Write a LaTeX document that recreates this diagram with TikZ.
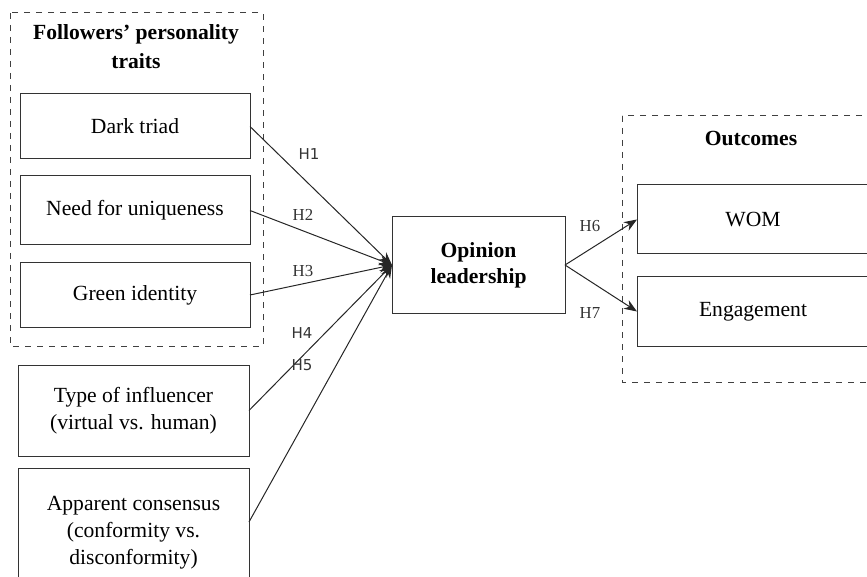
\documentclass[tikz,border=0pt]{standalone}
\usepackage{fontspec}
\setmainfont{Liberation Serif}
\newfontfamily\hsans{DejaVu Sans}
\usepackage{tikz}
\usetikzlibrary{arrows.meta}

\tikzset{
  box/.style={draw=black!80,line width=0.5pt,inner sep=0pt,outer sep=0pt,
    align=center,font=\fontsize{10.8}{13.5}\selectfont},
  grupo/.style={draw=black!75,dashed,line width=0.5pt},
  hip/.style={font=\fontsize{8.4}{9}\selectfont,text=black!80},
  hsans/.style={font=\hsans\fontsize{7.5}{9}\selectfont},
  flecha/.style={draw=black!85,line width=0.5pt,-{Stealth[length=6.5pt,width=5pt]}}
}

\begin{document}
\begin{tikzpicture}[x=0.5pt,y=-0.5pt]
      \clip (0,0) rectangle (867,577);
      % grupos
      \draw[grupo] (10,13) rectangle (263,346);
      \draw[grupo] (622,116) rectangle (890,382);
      \node[align=center,font=\fontsize{10.8}{14.5}\selectfont\bfseries] (traits) at (136,47)
        {Followers' personality\\traits};
      \node[font=\fontsize{10.8}{12}\selectfont\bfseries] (outc) at (751,138) {Outcomes};
      % antecedentes
      \node[box,minimum width=115pt,minimum height=32.5pt] (dark) at (135,126.5) {Dark triad};
      \node[box,minimum width=115pt,minimum height=34.5pt] (need) at (135,210.5) {Need for uniqueness};
      \node[box,minimum width=115pt,minimum height=32pt] (green) at (135,295) {Green identity};
      \node[box,minimum width=115.5pt,minimum height=45.5pt] (type) at (133.5,410.5)
        {Type of influencer\\(virtual vs. human)};
      \node[box,minimum width=115.5pt,minimum height=65pt] (cons) at (133.5,533)
        {Apparent consensus\\(conformity vs.\\disconformity)};
      % mediador
      \node[box,font=\fontsize{10.8}{13}\selectfont\bfseries,minimum width=86.5pt,minimum height=48pt]
        (opinion) at (478.5,265) {Opinion\\leadership};
      % resultados
      \node[box,minimum width=116pt,minimum height=34.5pt] (wom) at (753,219.5) {WOM};
      \node[box,minimum width=116pt,minimum height=34.5pt] (eng) at (753,311.5) {Engagement};
      % hipotesis
      \draw[flecha] (dark.east) -- (opinion.west);
      \draw[flecha] (need.east) -- (opinion.west);
      \draw[flecha] (green.east) -- (opinion.west);
      \draw[flecha] (type.east) -- (opinion.west);
      \draw[flecha] (cons.east) ++(0,-11) -- (opinion.west);
      \draw[flecha] (opinion.east) -- (wom.west);
      \draw[flecha] (opinion.east) -- (eng.west);
      \node[hip,hsans] (h1) at (309,154) {H1};
      \node[hip] (h2) at (303,215) {H2};
      \node[hip] (h3) at (303,271) {H3};
      \node[hip,hsans] (h4) at (302,333) {H4};
      \node[hip,hsans] (h5) at (302,365) {H5};
      \node[hip] (h6) at (590,226) {H6};
      \node[hip] (h7) at (590,313) {H7};
    \end{tikzpicture}
\end{document}
